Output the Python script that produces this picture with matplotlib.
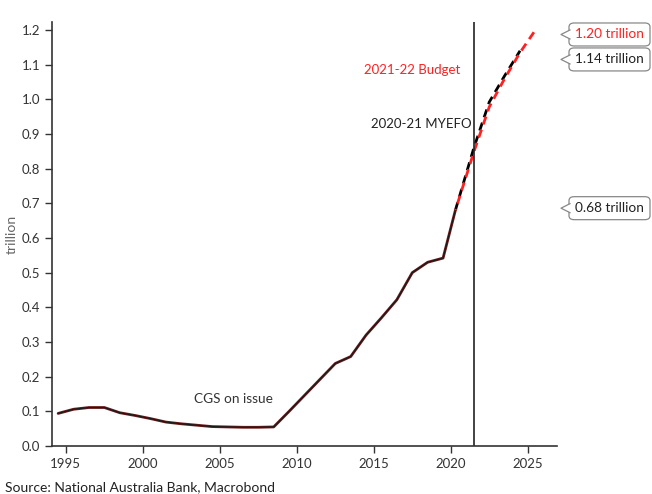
import numpy as np
import matplotlib
matplotlib.use("Agg")
import matplotlib.pyplot as plt
from matplotlib.patches import FancyBboxPatch, Polygon
from matplotlib.lines import Line2D

plt.rcParams["font.family"] = ["Lato", "DejaVu Sans"]

# CGS on issue, actuals (fiscal-year points, trillion)
hist_years = [1994.5, 1995.5, 1996.5, 1997.5, 1998.5, 1999.5, 2000.5, 2001.5,
              2002.5, 2003.5, 2004.5, 2005.5, 2006.5, 2007.5, 2008.5, 2009.5,
              2010.5, 2011.5, 2012.5, 2013.5, 2014.5, 2015.5, 2016.5, 2017.5,
              2018.5, 2019.5, 2020.3]
hist_vals = [0.094, 0.106, 0.111, 0.111, 0.096, 0.088, 0.079, 0.069,
             0.064, 0.060, 0.056, 0.055, 0.054, 0.054, 0.055, 0.100,
             0.146, 0.192, 0.238, 0.258, 0.320, 0.370, 0.422, 0.500,
             0.530, 0.542, 0.680]

# projections
myefo_years = [2020.3, 2021.5, 2022.5, 2023.5, 2024.5]
myefo_vals = [0.680, 0.860, 0.992, 1.068, 1.140]
budget_years = [2020.3, 2021.5, 2022.5, 2023.5, 2024.5, 2025.5]
budget_vals = [0.680, 0.848, 0.978, 1.060, 1.135, 1.200]

yticks = [0.0, 0.1, 0.2, 0.3, 0.4, 0.5, 0.6, 0.7, 0.8, 0.9, 1.0, 1.1, 1.2]
xticks = [1995, 2000, 2005, 2010, 2015, 2020, 2025]
budget_line_x = 2021.5

W, H = 652, 494
fig = plt.figure(figsize=(W / 100, H / 100), dpi=100)
ax = fig.add_axes([52 / W, 48 / H, 505 / W, 424 / H])

ax.plot(hist_years, hist_vals, color="#6e1c1c", lw=2.0, solid_capstyle="round")
ax.plot(hist_years, hist_vals, color="#1a1a1a", lw=0.9)
ax.plot(myefo_years, myefo_vals, color="black", lw=2.0, ls=(0, (3.0, 2.0)))
ax.plot(budget_years, budget_vals, color="#ff2020", lw=2.0, ls=(2.5, (3.0, 2.0)))
ax.axvline(budget_line_x, color="#222222", lw=1.2)

ax.set_xlim(1994.1, 2026.9)
ax.set_ylim(0, 1.223)
ax.set_xticks(xticks)
ax.set_yticks(yticks)
ax.set_yticklabels([f"{v:.1f}" for v in yticks])
ax.tick_params(axis="both", labelsize=9.5, colors="#333333", length=5,
               width=1, direction="out")
for side in ("top", "right"):
    ax.spines[side].set_visible(False)
for side in ("left", "bottom"):
    ax.spines[side].set_color("#333333")
    ax.spines[side].set_linewidth(1.2)
ax.set_ylabel("trillion", fontsize=10, color="#666666", labelpad=3)

ax.text(2017.5, 1.084, "2021-22 Budget", color="#ff2020", fontsize=9.5, ha="center", va="center")
ax.text(2018.1, 0.929, "2020-21 MYEFO", color="#222222", fontsize=9.5, ha="center", va="center")
ax.text(2005.9, 0.136, "CGS on issue", color="#333333", fontsize=9.8, ha="center", va="center")

fig.text(5 / W, 1 - 487 / H, "Source: National Australia Bank, Macrobond",
         fontsize=10, color="#222222", ha="left", va="center")


def callout(yval, label, color):
    # rounded value box with a small left-pointing notch, positioned at a data y value
    fig.canvas.draw()
    _, py = ax.transData.transform((2000, yval))
    x0, x1 = 569, 650
    bh = 23
    y0 = py - bh / 2
    box = FancyBboxPatch((x0 / W, y0 / H), (x1 - x0) / W, bh / H,
                         boxstyle="round,pad=0,rounding_size=0.008",
                         transform=fig.transFigure, facecolor="white",
                         edgecolor="#888888", lw=0.9, clip_on=False)
    fig.add_artist(box)
    notch = [(x0 + 1, py + 4.5), (x0 - 8, py), (x0 + 1, py - 4.5)]
    fig.add_artist(Polygon([(a / W, b / H) for a, b in notch], closed=True,
                           transform=fig.transFigure, facecolor="white",
                           edgecolor="none", clip_on=False))
    fig.add_artist(Line2D([a / W for a, b in notch], [b / H for a, b in notch],
                          transform=fig.transFigure, color="#888888", lw=0.9))
    fig.text((x0 + x1) / 2 / W, py / H, label, color=color, fontsize=9.8,
             ha="center", va="center")


callout(1.187, "1.20 trillion", "#ff2020")
callout(1.115, "1.14 trillion", "#222222")
callout(0.686, "0.68 trillion", "#222222")

fig.savefig("out.png", dpi=100)
